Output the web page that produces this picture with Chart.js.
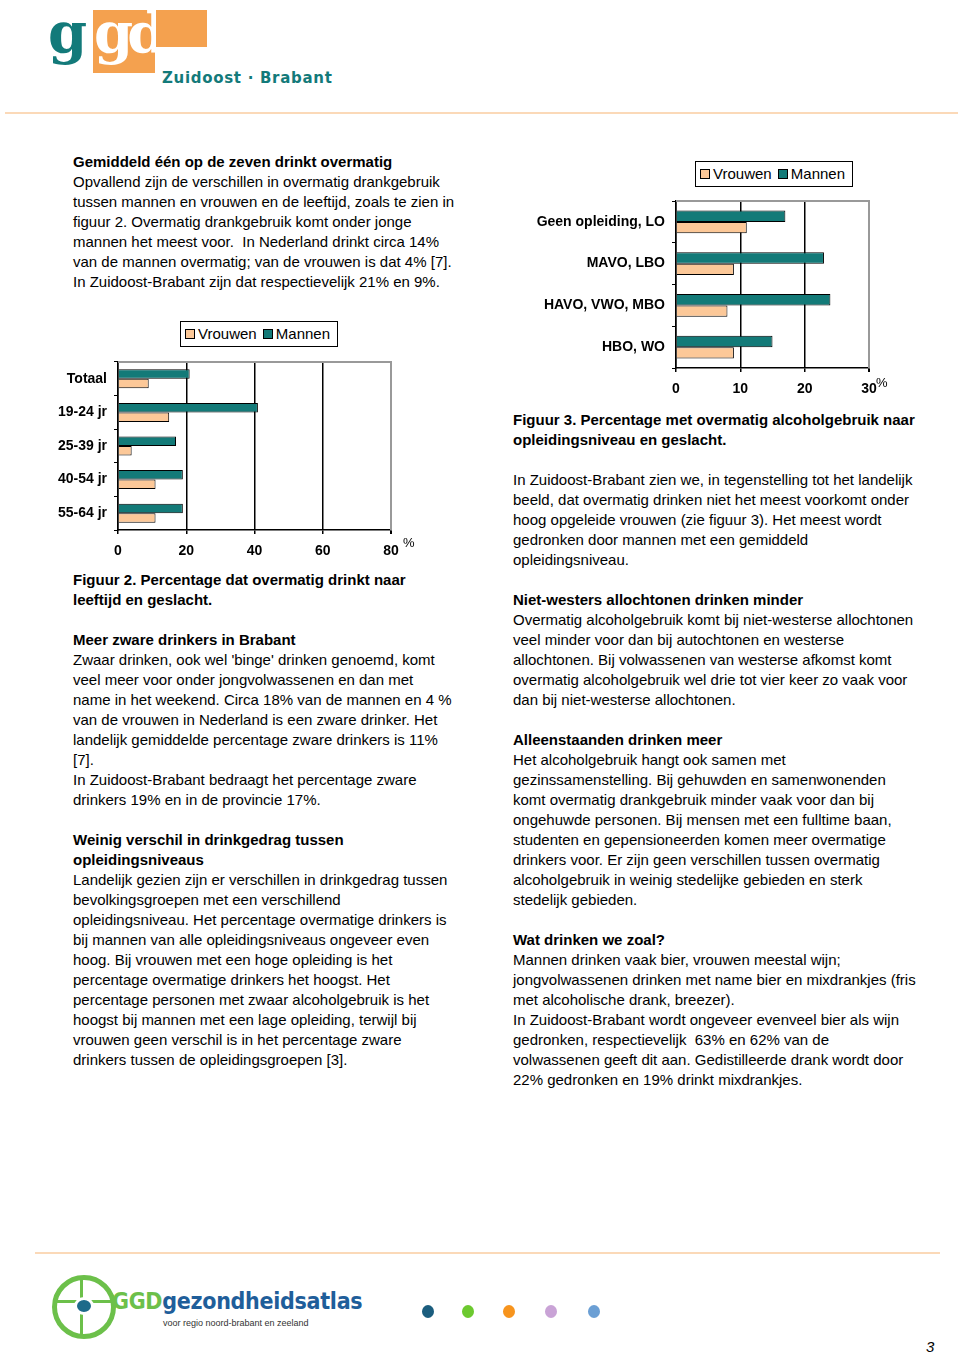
<!DOCTYPE html>
<html>
<head>
<meta charset="utf-8">
<script src="https://cdn.jsdelivr.net/npm/chart.js@4.4.1/dist/chart.umd.min.js"></script>
<style>
body{margin:0;width:960px;height:1360px;position:relative;background:#fff;font-family:"Liberation Sans",Arial,sans-serif;color:#000;overflow:hidden}
.t{position:absolute;white-space:nowrap;font-size:15px;line-height:20px}
.b{font-weight:bold}
.lg{position:absolute;border:1px solid #000;font-size:15px;line-height:24px;padding:0 7px 0 4px;white-space:nowrap;background:#fff}
.lg i{display:inline-block;width:8px;height:8px;border:1px solid #000;margin:0 3px 0 0;vertical-align:0}
.pct{position:absolute;font-size:13px;font-weight:normal}
.line{position:absolute;height:2px;background:#fbd9b8}
.dot{position:absolute;width:12px;height:13px;border-radius:50%}
</style>
</head>
<body>

<!-- kop: logo ggd -->
<div style="position:absolute;left:93px;top:10px;width:62px;height:63px;background:#f4a14f"></div>
<div style="position:absolute;left:48px;top:0;font:bold 56px 'DejaVu Serif',serif;color:#137a7a">g</div>
<div style="position:absolute;left:94px;top:0;font:bold 56px 'DejaVu Serif',serif;color:#fff;letter-spacing:-6px">gd</div>
<div style="position:absolute;left:156px;top:10px;width:51px;height:37px;background:#f4a14f"></div>
<div style="position:absolute;left:162px;top:69px;font:bold 15px 'DejaVu Sans',sans-serif;color:#137a7a;letter-spacing:0.7px">Zuidoost · Brabant</div>
<div class="line" style="left:5px;top:112px;width:953px"></div>

<!-- linker kolom -->
<div class="t" style="left:73px;top:152px">
<span class="b">Gemiddeld één op de zeven drinkt overmatig</span><br>
Opvallend zijn de verschillen in overmatig drankgebruik<br>
tussen mannen en vrouwen en de leeftijd, zoals te zien in<br>
figuur 2. Overmatig drankgebruik komt onder jonge<br>
mannen het meest voor.&nbsp; In Nederland drinkt circa 14%<br>
van de mannen overmatig; van de vrouwen is dat 4% [7].<br>
In Zuidoost-Brabant zijn dat respectievelijk 21% en 9%.
</div>

<div id="lg2" class="lg" style="left:180px;top:321px"></div>
<canvas id="fig2" width="400" height="230" style="position:absolute;left:40px;top:340px"></canvas>
<div class="pct" style="left:403px;top:535px">%</div>

<div class="t b" style="left:73px;top:570px">
Figuur 2. Percentage dat overmatig drinkt naar<br>
leeftijd en geslacht.
</div>

<div class="t" style="left:73px;top:630px">
<span class="b">Meer zware drinkers in Brabant</span><br>
Zwaar drinken, ook wel 'binge' drinken genoemd, komt<br>
veel meer voor onder jongvolwassenen en dan met<br>
name in het weekend. Circa 18% van de mannen en 4 %<br>
van de vrouwen in Nederland is een zware drinker. Het<br>
landelijk gemiddelde percentage zware drinkers is 11%<br>
[7].<br>
In Zuidoost-Brabant bedraagt het percentage zware<br>
drinkers 19% en in de provincie 17%.<br>
<br>
<span class="b">Weinig verschil in drinkgedrag tussen</span><br>
<span class="b">opleidingsniveaus</span><br>
Landelijk gezien zijn er verschillen in drinkgedrag tussen<br>
bevolkingsgroepen met een verschillend<br>
opleidingsniveau. Het percentage overmatige drinkers is<br>
bij mannen van alle opleidingsniveaus ongeveer even<br>
hoog. Bij vrouwen met een hoge opleiding is het<br>
percentage overmatige drinkers het hoogst. Het<br>
percentage personen met zwaar alcoholgebruik is het<br>
hoogst bij mannen met een lage opleiding, terwijl bij<br>
vrouwen geen verschil is in het percentage zware<br>
drinkers tussen de opleidingsgroepen [3].
</div>

<!-- rechter kolom -->
<div id="lg3" class="lg" style="left:695px;top:161px"></div>
<canvas id="fig3" width="400" height="219" style="position:absolute;left:520px;top:181px"></canvas>
<div class="pct" style="left:876px;top:375px">%</div>

<div class="t b" style="left:513px;top:410px">
Figuur 3. Percentage met overmatig alcoholgebruik naar<br>
opleidingsniveau en geslacht.
</div>

<div class="t" style="left:513px;top:470px">
In Zuidoost-Brabant zien we, in tegenstelling tot het landelijk<br>
beeld, dat overmatig drinken niet het meest voorkomt onder<br>
hoog opgeleide vrouwen (zie figuur 3). Het meest wordt<br>
gedronken door mannen met een gemiddeld<br>
opleidingsniveau.<br>
<br>
<span class="b">Niet-westers allochtonen drinken minder</span><br>
Overmatig alcoholgebruik komt bij niet-westerse allochtonen<br>
veel minder voor dan bij autochtonen en westerse<br>
allochtonen. Bij volwassenen van westerse afkomst komt<br>
overmatig alcoholgebruik wel drie tot vier keer zo vaak voor<br>
dan bij niet-westerse allochtonen.<br>
<br>
<span class="b">Alleenstaanden drinken meer</span><br>
Het alcoholgebruik hangt ook samen met<br>
gezinssamenstelling. Bij gehuwden en samenwonenden<br>
komt overmatig drankgebruik minder vaak voor dan bij<br>
ongehuwde personen. Bij mensen met een fulltime baan,<br>
studenten en gepensioneerden komen meer overmatige<br>
drinkers voor. Er zijn geen verschillen tussen overmatig<br>
alcoholgebruik in weinig stedelijke gebieden en sterk<br>
stedelijk gebieden.<br>
<br>
<span class="b">Wat drinken we zoal?</span><br>
Mannen drinken vaak bier, vrouwen meestal wijn;<br>
jongvolwassenen drinken met name bier en mixdrankjes (fris<br>
met alcoholische drank, breezer).<br>
In Zuidoost-Brabant wordt ongeveer evenveel bier als wijn<br>
gedronken, respectievelijk&nbsp; 63% en 62% van de<br>
volwassenen geeft dit aan. Gedistilleerde drank wordt door<br>
22% gedronken en 19% drinkt mixdrankjes.
</div>

<!-- voet -->
<div class="line" style="left:35px;top:1252px;width:905px"></div>
<div style="position:absolute;left:52px;top:1275px;width:54px;height:54px;border:5px solid #6cc04a;border-radius:50%"></div>
<div style="position:absolute;left:56px;top:1300px;width:56px;height:3px;background:#6cc04a"></div>
<div style="position:absolute;left:80px;top:1279px;width:3px;height:56px;background:#6cc04a"></div>
<div style="position:absolute;left:74px;top:1297px;width:14px;height:12px;border-radius:50%;background:#1d6a8a;border:3px solid #fff"></div>
<div style="position:absolute;left:112px;top:1288px;font:bold 23px 'DejaVu Sans Condensed','Liberation Sans Narrow',sans-serif;letter-spacing:-0.3px"><span style="color:#6cc04a">GGD</span><span style="color:#1f5e9a">gezondheidsatlas</span></div>
<div style="position:absolute;left:163px;top:1318px;font:9px 'Liberation Sans Narrow',sans-serif;color:#333">voor regio noord-brabant en zeeland</div>
<div class="dot" style="left:422px;top:1305px;background:#1b5d7e"></div>
<div class="dot" style="left:462px;top:1305px;background:#6cc92f"></div>
<div class="dot" style="left:503px;top:1305px;background:#f7941d"></div>
<div class="dot" style="left:545px;top:1305px;background:#c9a3d6"></div>
<div class="dot" style="left:588px;top:1305px;background:#6b9fd4"></div>
<div style="position:absolute;left:926px;top:1338px;font:italic 15px 'Liberation Sans',sans-serif">3</div>

<script>
// Figuur 2: leeftijd
const ageLabels = ['Totaal', '19-24 jr', '25-39 jr', '40-54 jr', '55-64 jr'];
const ageMen = [21, 41, 17, 19, 19];
const ageWomen = [9, 15, 4, 11, 11];
const ageTicks = [0, 20, 40, 60, 80];

// Figuur 3: opleiding
const eduLabels = ['Geen opleiding, LO', 'MAVO, LBO', 'HAVO, VWO, MBO', 'HBO, WO'];
const eduMen = [17, 23, 24, 15];
const eduWomen = [11, 9, 8, 9];
const eduTicks = [0, 10, 20, 30];

const seriesNames = ['Mannen', 'Vrouwen'];
const colMen = '#137a78';
const colWomen = '#fcc898';

function fillLegend(id) {
    // legenda: Vrouwen eerst, zoals in het origineel
    const el = document.getElementById(id);
    el.innerHTML = '<i style="background:' + colWomen + '"></i>' + seriesNames[1] +
        ' <i style="background:' + colMen + ';margin-left:2px"></i>' + seriesNames[0];
}

// grijze kader boven en rechts
const frame = {
    id: 'frame',
    afterDraw(chart) {
        const a = chart.chartArea, c = chart.ctx;
        c.save();
        c.strokeStyle = '#999';
        c.lineWidth = 2;
        c.beginPath();
        c.moveTo(a.left, a.top);
        c.lineTo(a.right, a.top);
        c.lineTo(a.right, a.bottom);
        c.stroke();
        c.restore();
    }
};

function makeChart(id, labels, men, women, ticks, catPct, yWidth, pad) {
    const max = ticks[ticks.length - 1];
    return new Chart(document.getElementById(id), {
        type: 'bar',
        data: {
            labels: labels,
            datasets: [
                {label: seriesNames[0], data: men, backgroundColor: colMen, borderColor: '#000', borderWidth: 1},
                {label: seriesNames[1], data: women, backgroundColor: colWomen, borderColor: '#000', borderWidth: 1}
            ]
        },
        options: {
            indexAxis: 'y',
            responsive: false,
            animation: false,
            datasets: {bar: {categoryPercentage: catPct, barPercentage: 1}},
            layout: {padding: pad},
            plugins: {legend: {display: false}, tooltip: {enabled: false}},
            scales: {
                x: {
                    min: 0, max: max,
                    afterBuildTicks: s => { s.ticks = ticks.map(v => ({value: v})); },
                    afterFit: s => { s.height = 30; },
                    grid: {
                        color: c => (c.tick && c.tick.value === max) ? '#999' : '#000',
                        lineWidth: c => (c.tick && c.tick.value === max) ? 2 : 1.5,
                        tickColor: '#000', tickLength: 4
                    },
                    border: {color: '#000', width: 1.5},
                    ticks: {color: '#000', padding: 9, font: {family: 'Liberation Sans', size: 14, weight: 'bold'}}
                },
                y: {
                    afterFit: s => { s.width = yWidth; },
                    grid: {drawOnChartArea: false, tickColor: '#000', tickLength: 4, offset: true},
                    border: {color: '#000', width: 1.5},
                    ticks: {color: '#000', padding: 7, font: {family: 'Liberation Sans', size: 14, weight: 'bold'}}
                }
            }
        },
        plugins: [frame]
    });
}

fillLegend('lg2');
fillLegend('lg3');
makeChart('fig2', ageLabels, ageMen, ageWomen, ageTicks, 0.565, 78, {left: 0, right: 49, top: 22, bottom: 10});
makeChart('fig3', eduLabels, eduMen, eduWomen, eduTicks, 0.55, 156, {left: 0, right: 51, top: 20, bottom: 2});
</script>
</body>
</html>
